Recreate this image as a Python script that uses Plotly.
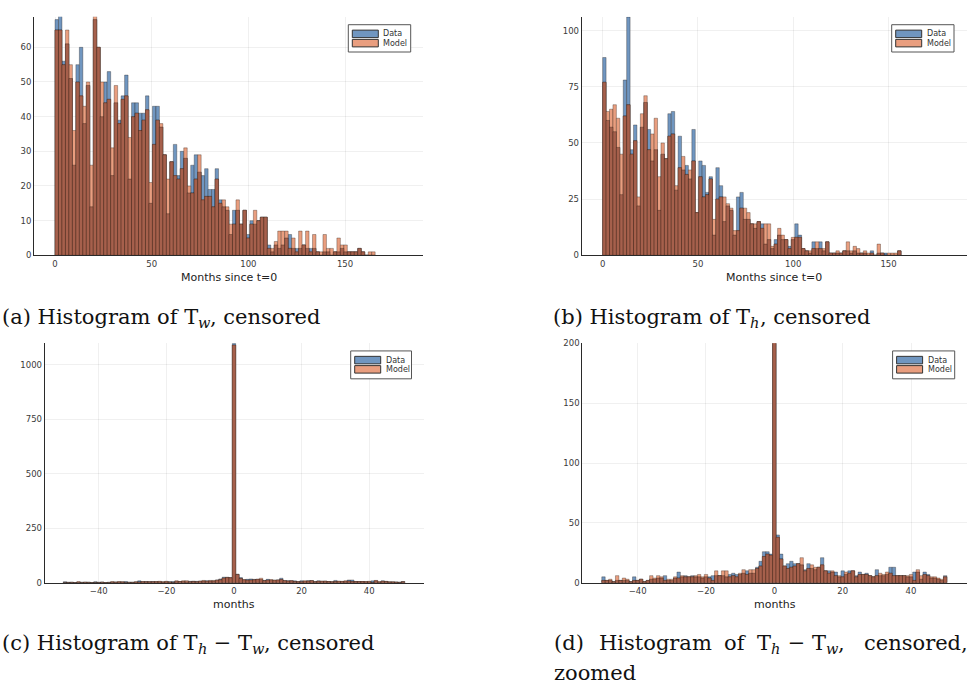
import numpy as np
import plotly.graph_objects as go

W, H = 972, 692

# ---------------- data ----------------
# (a) T_w histogram, bins of 1.8 months starting at 0
tw_bin_width = 1.8
tw_data = [68, 69, 56, 61, 51, 26, 55, 60, 38, 49, 14, 68, 60, 40, 50, 53, 23, 44, 39, 46,
           52, 22, 44, 44, 41, 41, 46, 15, 43, 43, 37, 29, 12, 27, 32, 23, 30, 28, 18, 26,
           29, 24, 23, 25, 19, 19, 25, 16, 14, 13, 6, 13, 13, 9, 13, 6, 10, 9, 10, 11,
           11, 3, 1, 3, 2, 3, 5, 6, 2, 2, 2, 3, 2, 2, 2, 1, 0, 1, 1, 0,
           1, 1, 2, 1, 1, 1, 1, 2, 1, 0, 0, 0]
tw_model = [65, 65, 55, 65, 55, 36, 50, 46, 43, 50, 26, 69, 60, 50, 44, 45, 31, 49, 38, 45,
            46, 34, 40, 41, 36, 39, 42, 21, 32, 39, 38, 29, 22, 27, 23, 22, 25, 31, 20, 18,
            22, 29, 16, 17, 17, 14, 22, 15, 16, 14, 9, 9, 16, 9, 13, 5, 9, 13, 10, 11,
            11, 2, 2, 4, 7, 7, 7, 2, 5, 1, 7, 3, 7, 1, 6, 1, 1, 6, 2, 2,
            1, 5, 3, 3, 1, 1, 1, 2, 1, 0, 1, 1]

# (b) T_h histogram, same binning
th_bin_width = 1.8
th_data = [88, 60, 57, 55, 48, 27, 78, 106, 47, 58, 22, 57, 68, 56, 42, 47, 20, 45, 43, 63,
           64, 29, 53, 38, 40, 34, 56, 19, 42, 40, 28, 35, 9, 39, 31, 15, 22, 20, 9, 26,
           28, 16, 16, 14, 12, 15, 14, 5, 7, 3, 7, 9, 7, 7, 4, 7, 14, 9, 3, 2,
           1, 6, 3, 6, 2, 6, 1, 1, 1, 1, 2, 2, 1, 2, 1, 1, 1, 0, 2, 0,
           1, 1, 1, 0, 0, 0, 2]
th_model = [77, 64, 65, 67, 61, 45, 62, 67, 45, 51, 26, 63, 71, 47, 54, 61, 35, 50, 43, 53,
            54, 31, 39, 44, 36, 38, 42, 19, 35, 26, 27, 34, 16, 25, 26, 26, 23, 21, 11, 11,
            21, 21, 19, 14, 14, 15, 12, 14, 14, 4, 5, 12, 9, 7, 3, 8, 8, 8, 3, 2,
            2, 3, 6, 3, 3, 6, 1, 1, 2, 1, 2, 6, 2, 4, 3, 1, 2, 1, 1, 0,
            5, 1, 0, 1, 1, 1, 2]

# (c)/(d) T_h - T_w histogram, unit bins centred on -50 ... 50
diff_months = list(range(-50, 51))
diff_data = [5, 2, 2, 1, 2, 2, 2, 2, 1, 5, 2, 3, 1, 2, 3, 3, 4, 4, 6, 2,
             2, 4, 9, 5, 6, 5, 6, 5, 5, 4, 5, 5, 6, 6, 6, 6, 5, 7, 8, 7,
             7, 8, 10, 8, 8, 13, 18, 26, 26, 24,
             1098,
             40, 24, 14, 16, 18, 16, 16, 15, 11, 16, 12, 11, 13, 21, 10, 10, 9, 9, 5, 10,
             7, 10, 10, 6, 9, 7, 8, 6, 5, 11, 6, 6, 7, 13, 13, 6, 6, 6, 5, 5,
             9, 9, 3, 9, 7, 4, 4, 3, 2, 6]
diff_model = [2, 2, 3, 1, 6, 2, 4, 3, 1, 2, 2, 3, 1, 2, 6, 4, 6, 5, 2, 3,
              3, 5, 4, 6, 5, 5, 5, 6, 7, 5, 7, 4, 2, 10, 6, 10, 10, 5, 6, 5,
              8, 11, 7, 11, 11, 12, 14, 22, 24, 23,
              1090,
              38, 20, 14, 12, 13, 14, 16, 21, 10, 12, 15, 13, 13, 15, 10, 8, 10, 6, 6, 5,
              9, 8, 10, 5, 7, 7, 7, 6, 5, 6, 8, 7, 9, 8, 6, 6, 6, 6, 6, 7,
              2, 11, 6, 7, 6, 5, 5, 4, 3, 5]
diff_bin_width = 1.0

# tick labels
t_xticks = [0, 50, 100, 150]
a_yticks = [0, 10, 20, 30, 40, 50, 60]
b_yticks = [0, 25, 50, 75, 100]
c_yticks = [0, 250, 500, 750, 1000]
d_yticks = [0, 50, 100, 150, 200]
diff_xticks = [-40, -20, 0, 20, 40]

# ---------------- style ----------------
BLUE = "rgb(112,150,192)"
ORANGE = "rgb(233,158,127)"
OVER = "rgb(166,96,76)"
EDGE = "rgba(20,10,5,0.5)"
GRID = "rgba(0,0,0,0.06)"
TICKFONT = dict(family="DejaVu Sans", size=8.5, color="#3a3a3a")


def fx(p):
    return p / W


def fy(p):
    return 1 - p / H


fig = go.Figure()

panels = [
    ("a", None, tw_data, tw_model, tw_bin_width, (34, 423.3, 12, 254), [-10.86, 190.5], [0, 68.8], t_xticks, a_yticks),
    ("b", None, th_data, th_model, th_bin_width, (581.7, 967, 12, 254), [-11.0, 191.2], [0, 106.1], t_xticks, b_yticks),
    ("c", diff_months, diff_data, diff_model, diff_bin_width, (44.7, 424, 343.3, 586.3), [-56.0, 56.2], [0, 1098], diff_xticks, c_yticks),
    ("d", diff_months, diff_data, diff_model, diff_bin_width, (582.3, 966.7, 343.3, 586.3), [-56.2, 56.3], [0, 200], diff_xticks, d_yticks),
]

layout_axes = {}
for i, (name, centers, dat, mod, bw, box, xr, yr, xt, yt) in enumerate(panels):
    idx = "" if i == 0 else str(i + 1)
    dat = np.array(dat, dtype=float)
    mod = np.array(mod, dtype=float)
    if centers is None:
        cx = bw * (np.arange(len(dat)) + 0.5)
    else:
        cx = np.array(centers, dtype=float)
    both = np.minimum(dat, mod)
    for vals, col in ((dat, BLUE), (mod, ORANGE), (both, OVER)):
        fig.add_trace(go.Bar(
            x=cx, y=vals, width=bw, xaxis="x" + idx, yaxis="y" + idx,
            marker=dict(color=col, line=dict(color=EDGE, width=0.6)),
            showlegend=False, hoverinfo="skip"))
    x0, x1, yt0, yb = box
    layout_axes["xaxis" + idx] = dict(
        domain=[fx(x0), fx(x1)], anchor="y" + idx, range=xr, tickvals=xt,
        showline=True, linecolor="#2a2a2a", linewidth=1, showgrid=True, gridcolor=GRID,
        gridwidth=1, zeroline=False, ticks="", tickfont=TICKFONT, fixedrange=True)
    layout_axes["yaxis" + idx] = dict(
        domain=[fy(yb), fy(yt0)], anchor="x" + idx, range=yr, tickvals=yt,
        showline=True, linecolor="#2a2a2a", linewidth=1, showgrid=True, gridcolor=GRID,
        gridwidth=1, zeroline=False, ticks="", tickfont=TICKFONT, fixedrange=True)

shapes = []
annotations = []


def legend_box(bx0, by0, bx1, by1):
    shapes.append(dict(type="rect", xref="paper", yref="paper",
                       x0=fx(bx0), x1=fx(bx1), y0=fy(by1), y1=fy(by0),
                       fillcolor="white", line=dict(color="#555555", width=1)))
    for k, (lab, col) in enumerate((("Data", BLUE), ("Model", ORANGE))):
        sy0 = by0 + 5.5 + k * 9.4
        shapes.append(dict(type="rect", xref="paper", yref="paper",
                           x0=fx(bx0 + 4), x1=fx(bx0 + 30), y0=fy(sy0 + 7.6), y1=fy(sy0),
                           fillcolor=col, line=dict(color="#333333", width=1)))
        annotations.append(dict(xref="paper", yref="paper", x=fx(bx0 + 33), y=fy(sy0 + 3.9),
                                xanchor="left", yanchor="middle", text=lab, showarrow=False,
                                font=dict(family="DejaVu Sans", size=8, color="#333333")))


legend_box(348.3, 20, 410.7, 47.7)
legend_box(891.7, 20, 954, 47.7)
legend_box(350.7, 351, 411.5, 379.3)
legend_box(892.6, 351, 954.7, 379.3)

# axis titles
for (x, y, t) in ((228.7, 276, "Months since t=0"), (774.4, 276, "Months since t=0"),
                  (234.3, 608, "months"), (774.5, 608, "months")):
    annotations.append(dict(xref="paper", yref="paper", x=fx(x), y=fy(y), xanchor="center",
                            yanchor="middle", text=t, showarrow=False,
                            font=dict(family="DejaVu Sans", size=11, color="#222222")))

# ---------------- captions (serif, with italic subscripts) ----------------
CAP_SIZE = 21
SUB_SIZE = 14.5
# approximate DejaVu Serif advance widths (em)
ADV = {" ": .318, "(": .390, ")": .390, ",": .318, "−": .838, "a": .596, "b": .640,
       "c": .560, "d": .640, "e": .592, "f": .370, "g": .640, "h": .644, "i": .320,
       "m": .948, "n": .644, "o": .602, "r": .478, "s": .513, "t": .402, "w": .856,
       "z": .525, "H": .872, "T": .678}
SUB_ADV = {"w": .80, "h": .62}


def text_w(s):
    return sum(ADV.get(ch, .6) for ch in s) * CAP_SIZE


def caption(x, y, parts):
    """parts: list of (text, is_subscript)"""
    for txt, sub in parts:
        if sub:
            annotations.append(dict(xref="paper", yref="paper", x=fx(x), y=fy(y + 6),
                                    xanchor="left", yanchor="middle", text=txt, showarrow=False,
                                    font=dict(family="DejaVu Serif", size=SUB_SIZE, color="#111111",
                                              style="italic")))
            x += SUB_ADV.get(txt, .7) * SUB_SIZE + 0.5
        else:
            annotations.append(dict(xref="paper", yref="paper", x=fx(x), y=fy(y),
                                    xanchor="left", yanchor="middle", text=txt, showarrow=False,
                                    font=dict(family="DejaVu Serif", size=CAP_SIZE, color="#111111")))
            x += text_w(txt)


caption(0, 317, [("(a) Histogram of T", False), ("w", True), (", censored", False)])
caption(551, 317, [("(b) Histogram of T", False), ("h", True), (", censored", False)])
caption(0, 647, [("(c) Histogram of T", False), ("h", True), (" − T", False), ("w", True),
                 (", censored", False)])
caption(552, 647, [("(d)", False)])
caption(597, 647, [("Histogram", False)])
caption(722, 647, [("of", False)])
caption(755, 647, [("T", False), ("h", True), (" − T", False), ("w", True), (",", False)])
caption(862, 647, [("censored,", False)])
caption(552, 678, [("zoomed", False)])

fig.update_layout(
    width=W, height=H, autosize=False,
    margin=dict(l=0, r=0, t=0, b=0),
    paper_bgcolor="white", plot_bgcolor="white",
    barmode="overlay", showlegend=False,
    shapes=shapes, annotations=annotations,
    **layout_axes)

fig.write_html("out.html", include_plotlyjs=True, config={"displayModeBar": False})
